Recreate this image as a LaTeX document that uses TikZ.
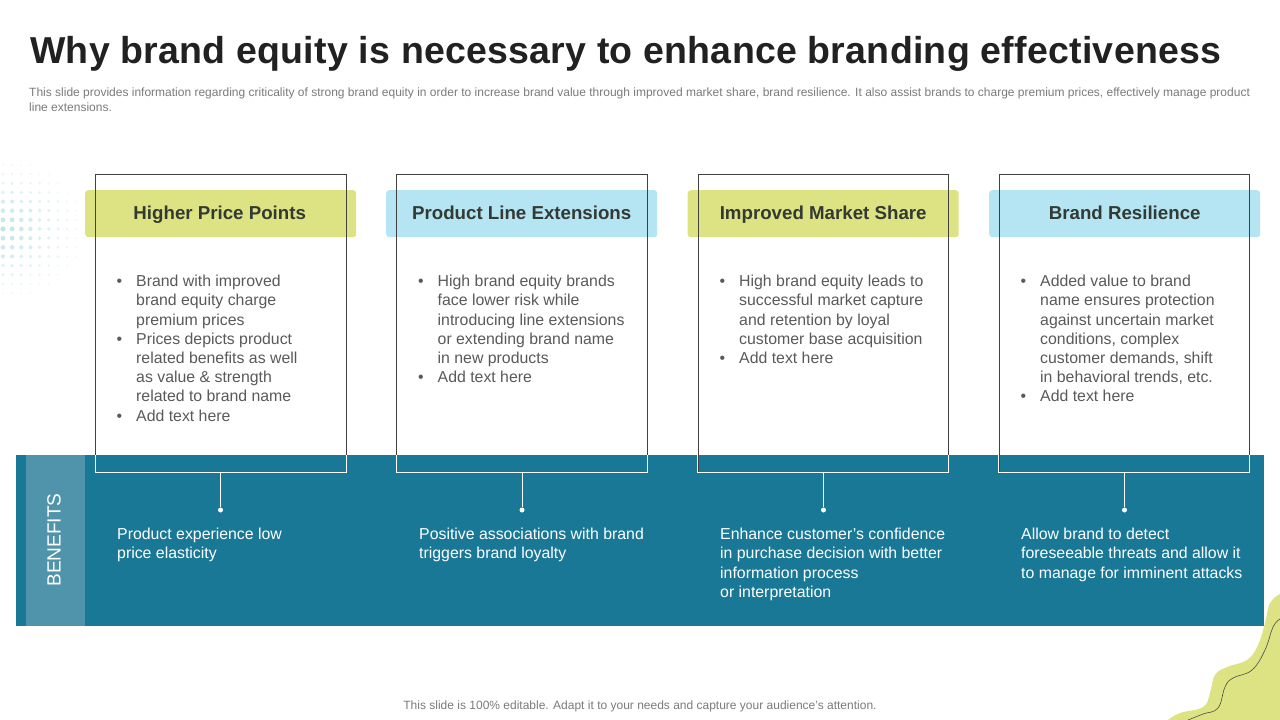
\documentclass[tikz,border=0pt]{standalone}
\usepackage{fontspec}
\setmainfont{Liberation Sans}
\usetikzlibrary{calc}
\definecolor{teal}{HTML}{187895}
\definecolor{stripc}{HTML}{4F94AB}
\definecolor{limec}{HTML}{DDE283}
\definecolor{skyc}{HTML}{B5E4F2}
\definecolor{bodyc}{HTML}{595959}
\definecolor{headc}{HTML}{333A33}
\definecolor{subc}{HTML}{7A7A7A}
\definecolor{dotc}{HTML}{BFE3E8}
\newcommand{\bul}{\makebox[0pt][r]{•\hspace{14pt}}}
\newcommand{\bodyfont}{\fontsize{15.85}{19.2}\selectfont}
\tikzset{
  x=1pt,y=-1pt,
  cardbox/.style={draw=black!75,line width=.8pt,fill=none,minimum width=250.5pt,minimum height=297.5pt,anchor=north west,inner sep=0},
  head/.style={rounded corners=3pt,minimum width=271pt,minimum height=47pt,anchor=north west,inner sep=0,font=\fontsize{18.7}{22}\selectfont\bfseries,text=headc,text height=15.5pt,text depth=3.5pt},
  bullets/.style={anchor=north west,inner sep=0,align=left,text=bodyc,font=\bodyfont},
  benefit/.style={anchor=north west,inner sep=0,align=left,text=white,font=\bodyfont},
  wline/.style={draw=white,line width=.9pt},
  enddot/.style={circle,fill=white,minimum size=5pt,inner sep=0},
}
\begin{document}
\begin{tikzpicture}
\useasboundingbox (0,0) rectangle (1280,720);
% dotted pattern
\foreach \i in {0,...,9}{
  \foreach \j in {-8,...,8}{
    \pgfmathsetmacro{\dd}{sqrt((\i*0.9)^2+(\j*1.05)^2)}
    \pgfmathsetmacro{\rr}{max(0.4,2.7-0.2*\dd)}
    \pgfmathsetmacro{\op}{max(0,0.95-0.1*\dd)}
    \fill[dotc,opacity=\op] (3+9.15*\i,229+9.15*\j) circle[radius=\rr];
  }
}
% corner blob
\fill[limec] plot[smooth,tension=.7] coordinates {(1168,720) (1180,713) (1203,707) (1210,693) (1215,675) (1227,667) (1247,660) (1258,645) (1265,623) (1270,603) (1280,594)} -- (1280,720) -- cycle;
\draw[black!70,line width=.6pt] plot[smooth,tension=.7] coordinates {(1188,720) (1203,714) (1218,708) (1225,687) (1233,678) (1252,670) (1265,650) (1273,627) (1280,619)};
% band
\node[fill=teal,anchor=north west,inner sep=0,minimum width=1248pt,minimum height=171pt] (band) at (16,455) {};
\node[fill=stripc,anchor=north west,inner sep=0,minimum width=59pt,minimum height=171pt] (strip) at (26,455) {};
\node[rotate=90,text=white,font=\fontsize{19.1}{22}\selectfont] (benefits) at (54,540) {BENEFITS};
% title
\node[anchor=west,inner sep=0,text=black!87,font=\fontsize{37.5}{40}\selectfont\bfseries] (title) at (30,54) {\addfontfeature{LetterSpace=0.68}Why brand equity is necessary to enhance branding effectiveness};
\node[anchor=north west,inner sep=0,align=left,text=subc,font=\fontsize{12}{14.6}\selectfont] (sub) at (29,88) {This slide provides information regarding criticality of strong brand equity in order to increase brand value through improved market share, brand resilience. It also assist brands to charge premium prices, effectively manage product\\line extensions.};
\node[inner sep=0,text=subc,font=\fontsize{12}{14}\selectfont] (foot) at (640,706) {This slide is 100\% editable. Adapt it to your needs and capture your audience's attention.};
% headers
\node[head,fill=limec] (h1) at (85,190) {\hspace{-2pt}Higher Price Points};
\node[head,fill=skyc] (h2) at (386,190) {Product Line Extensions};
\node[head,fill=limec] (h3) at (687.5,190) {Improved Market Share};
\node[head,fill=skyc] (h4) at (989,190) {Brand Resilience};
% cards
\node[cardbox] (c1) at (95,174) {};
\node[cardbox] (c2) at (396,174) {};
\node[cardbox] (c3) at (697.5,174) {};
\node[cardbox] (c4) at (998.5,174) {};
\foreach \c/\x in {c1/220.5,c2/522,c3/823.5,c4/1124.5}{
  \draw[wline] (\c.south west |- band.north) -- (\c.south west) -- (\c.south east) -- (\c.south east |- band.north);
  \node[enddot] (d\c) at (\x,510) {};
  \draw[wline] (\c.south -| d\c) -- (d\c);
}
% bullet text
\node[bullets] (t1) at (136,275) {\bul Brand with improved\\brand equity charge\\premium prices\\\bul Prices depicts product\\related benefits as well\\as value \& strength\\related to brand name\\\bul Add text here};
\node[bullets] (t2) at (437.5,275) {\bul High brand equity brands\\face lower risk while\\introducing line extensions\\or extending brand name\\in new products\\\bul Add text here};
\node[bullets] (t3) at (739,275) {\bul High brand equity leads to\\successful market capture\\and retention by loyal\\customer base acquisition\\\bul Add text here};
\node[bullets] (t4) at (1040,275) {\bul Added value to brand\\name ensures protection\\against uncertain market\\conditions, complex\\customer demands, shift\\in behavioral trends, etc.\\\bul Add text here};
% benefits
\node[benefit] (b1) at (117,528) {Product experience low\\price elasticity};
\node[benefit] (b2) at (419,528) {Positive associations with brand\\triggers brand loyalty};
\node[benefit] (b3) at (720,528) {Enhance customer’s confidence\\in purchase decision with better\\information process\\or interpretation};
\node[benefit] (b4) at (1021,528) {Allow brand to detect\\foreseeable threats and allow it\\to manage for imminent attacks};
\end{tikzpicture}
\end{document}
